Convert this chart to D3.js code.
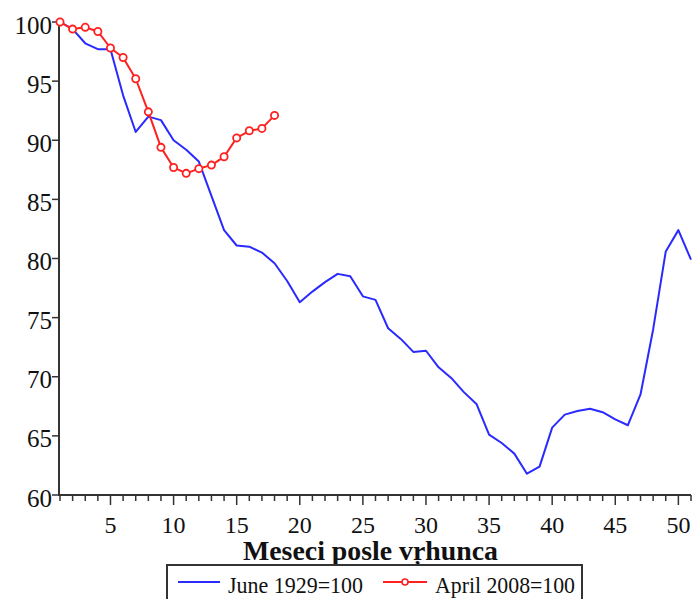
<!DOCTYPE html>
<html>
<head>
<meta charset="utf-8">
<script src="https://cdn.jsdelivr.net/npm/d3@7"></script>
<style>
  html, body { margin: 0; padding: 0; background: #fff; }
  svg { display: block; }
</style>
</head>
<body>
<svg id="chart" width="698" height="599"></svg>
<script>
// ---- Data ----
const months1929 = d3.range(1, 52);
const values1929 = [100, 99.4, 98.2, 97.7, 97.7, 93.8, 90.7, 92.0, 91.7, 90.0,
  89.2, 88.2, 85.3, 82.4, 81.1, 81.0, 80.5, 79.6, 78.1, 76.3,
  77.2, 78.0, 78.7, 78.5, 76.8, 76.5, 74.1, 73.2, 72.1, 72.2,
  70.8, 69.9, 68.7, 67.7, 65.1, 64.4, 63.5, 61.8, 62.4, 65.7,
  66.8, 67.1, 67.3, 67.0, 66.4, 65.9, 68.5, 74.0, 80.6, 82.4, 79.9];
const months2008 = d3.range(1, 19);
const values2008 = [100, 99.4, 99.55, 99.2, 97.8, 97.0, 95.2, 92.4, 89.4, 87.7,
  87.2, 87.6, 87.9, 88.6, 90.2, 90.8, 91.0, 92.1];
const yTicks = [60, 65, 70, 75, 80, 85, 90, 95, 100];
const xMajorTicks = [5, 10, 15, 20, 25, 30, 35, 40, 45, 50];
const xAllTicks = d3.range(1, 52);
const xTitle = "Meseci posle vŗhunca";
const seriesNames = ["June 1929=100", "April 2008=100"];

// ---- Layout ----
const svg = d3.select("#chart");
const x = d3.scaleLinear().domain([1, 51]).range([60, 691]);
const y = d3.scaleLinear().domain([60, 100]).range([495, 22]);
const axisColor = "#333";
const serif = "'Liberation Serif', 'Times New Roman', serif";

// X axis
const gx = svg.append("g").attr("transform", "translate(0,495)");
gx.append("line").attr("x1", x(1) - 1).attr("x2", x(51)).attr("y1", 0).attr("y2", 0)
  .attr("stroke", axisColor).attr("stroke-width", 2);
gx.selectAll("line.tick").data(xAllTicks).enter().append("line")
  .attr("class", "tick")
  .attr("x1", d => x(d)).attr("x2", d => x(d))
  .attr("y1", 0).attr("y2", d => d % 5 === 0 ? 10 : 6)
  .attr("stroke", axisColor).attr("stroke-width", 1.5);
gx.selectAll("text").data(xMajorTicks).enter().append("text")
  .attr("x", d => x(d)).attr("y", 38)
  .attr("text-anchor", "middle")
  .attr("font-family", serif).attr("font-size", 24).attr("fill", "#111")
  .text(d => d);

// Y axis
const gy = svg.append("g").attr("transform", "translate(59,0)");
gy.append("line").attr("x1", 0).attr("x2", 0).attr("y1", y(100) - 1).attr("y2", y(60) + 1)
  .attr("stroke", axisColor).attr("stroke-width", 2);
gy.selectAll("line.tick").data(yTicks).enter().append("line")
  .attr("class", "tick")
  .attr("x1", -7).attr("x2", 0)
  .attr("y1", d => y(d)).attr("y2", d => y(d))
  .attr("stroke", axisColor).attr("stroke-width", 1.5);
gy.selectAll("text").data(yTicks).enter().append("text")
  .attr("x", -7).attr("y", d => y(d) + 11.5)
  .attr("text-anchor", "end")
  .attr("font-family", serif).attr("font-size", 25).attr("fill", "#111")
  .text(d => d);

// Lines
const line = d3.line().x(d => x(d[0])).y(d => y(d[1]));
const data1929 = months1929.map((m, i) => [m, values1929[i]]);
const data2008 = months2008.map((m, i) => [m, values2008[i]]);

svg.append("path").datum(data1929).attr("d", line)
  .attr("fill", "none").attr("stroke", "#2a2aff").attr("stroke-width", 2)
  .attr("stroke-linejoin", "round");
svg.append("path").datum(data2008).attr("d", line)
  .attr("fill", "none").attr("stroke", "#ff2020").attr("stroke-width", 2)
  .attr("stroke-linejoin", "round");
svg.selectAll("circle.pt").data(data2008).enter().append("circle")
  .attr("class", "pt")
  .attr("cx", d => x(d[0])).attr("cy", d => y(d[1])).attr("r", 3.6)
  .attr("fill", "#fff").attr("stroke", "#ff2020").attr("stroke-width", 1.8);

// X title
svg.append("text").attr("x", 370.5).attr("y", 560)
  .attr("text-anchor", "middle")
  .attr("font-family", serif).attr("font-size", 27).attr("font-weight", "bold")
  .attr("fill", "#111")
  .attr("textLength", 255).attr("lengthAdjust", "spacingAndGlyphs")
  .text(xTitle);

// Legend
const lg = svg.append("g");
lg.append("rect").attr("x", 167).attr("y", 565).attr("width", 415).attr("height", 40)
  .attr("fill", "#fff").attr("stroke", axisColor).attr("stroke-width", 2);
lg.append("line").attr("x1", 178).attr("x2", 220).attr("y1", 582).attr("y2", 582)
  .attr("stroke", "#2a2aff").attr("stroke-width", 2);
lg.append("text").attr("x", 228).attr("y", 593)
  .attr("font-family", serif).attr("font-size", 24).attr("fill", "#111")
  .attr("textLength", 135).attr("lengthAdjust", "spacingAndGlyphs")
  .text(seriesNames[0]);
lg.append("line").attr("x1", 383).attr("x2", 427).attr("y1", 582).attr("y2", 582)
  .attr("stroke", "#ff2020").attr("stroke-width", 2);
lg.append("circle").attr("cx", 405).attr("cy", 582).attr("r", 3)
  .attr("fill", "#fff").attr("stroke", "#ff2020").attr("stroke-width", 1.6);
lg.append("text").attr("x", 435).attr("y", 593)
  .attr("font-family", serif).attr("font-size", 24).attr("fill", "#111")
  .attr("textLength", 140).attr("lengthAdjust", "spacingAndGlyphs")
  .text(seriesNames[1]);
</script>
</body>
</html>
